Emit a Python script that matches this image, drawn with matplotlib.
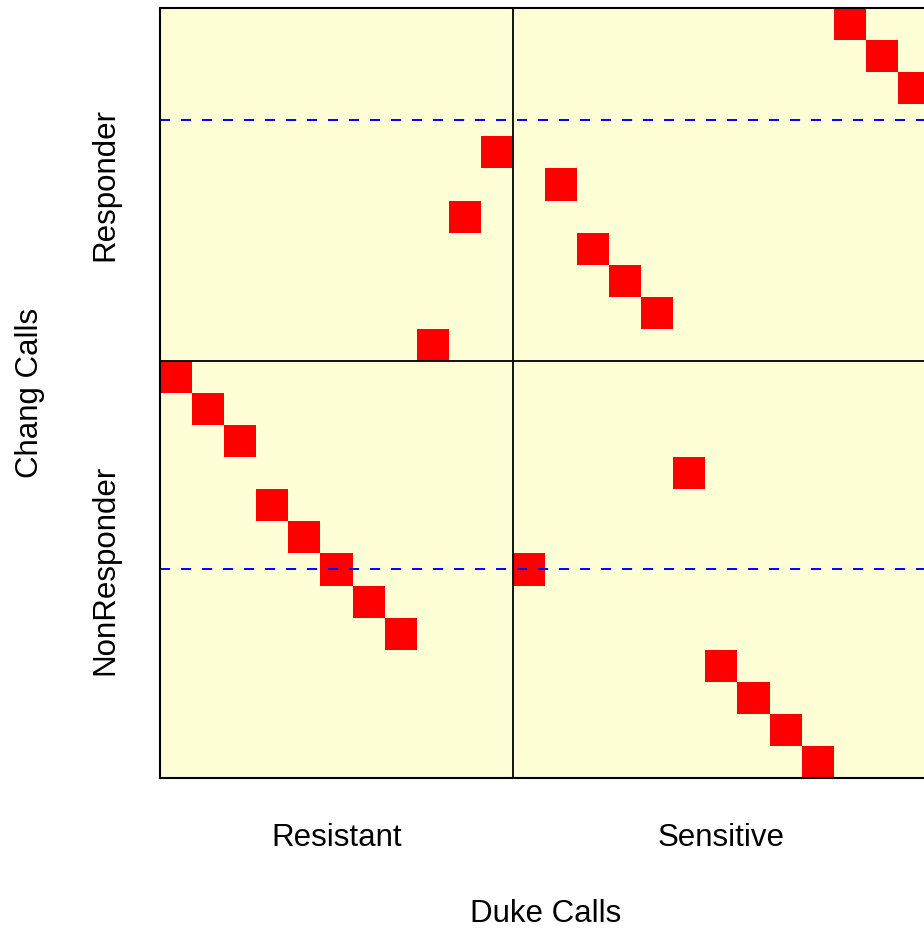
import numpy as np
import matplotlib
matplotlib.use("Agg")
import matplotlib.pyplot as plt
from matplotlib.colors import ListedColormap

plt.rcParams['font.family'] = ['Liberation Sans', 'DejaVu Sans']

# Duke calls (x) and Chang calls (y) categories
duke_labels = ["Resistant", "Sensitive"]
chang_labels = ["NonResponder", "Responder"]
n_resistant = 11          # samples called Resistant by Duke (columns)
n_nonresponder = 13       # rows called NonResponder by Chang
# row (counted from the top) of the red cell for each sample column
row_from_top = [11, 12, 13, 15, 16, 17, 18, 19, 10, 6, 4,
                17, 5, 7, 8, 9, 14, 20, 21, 22, 23, 0, 1, 2]
# dashed reference rows (counted from the top, cell centres)
dashed_rows_from_top = [3.5, 17.5]

n = len(row_from_top)
Z = np.zeros((n, n))
for c, r in enumerate(row_from_top):
    Z[n - 1 - r, c] = 1

fig = plt.figure(figsize=(9.24, 9.31), dpi=100)
ax = fig.add_axes([160/924, (931-778)/931, 770/924, 770/931])
ax.pcolormesh(np.arange(n + 1), np.arange(n + 1), Z,
              cmap=ListedColormap(['#FEFED6', '#FF0000']), vmin=0, vmax=1)
ax.set_xlim(0, n)
ax.set_ylim(0, n)

ax.axvline(n_resistant, color='black', lw=1.3)
ax.axhline(n_nonresponder, color='black', lw=1.3)
for dr in dashed_rows_from_top:
    ln, = ax.plot([0, n], [n - dr, n - dr], color='#0000FF', lw=1.4)
    ln.set_dashes((5.2, 5.6))

for s in ax.spines.values():
    s.set_linewidth(1.5)
    s.set_color('black')

ax.set_xticks([n_resistant / 2, (n_resistant + n) / 2])
ax.set_xticklabels(duke_labels)
ax.set_yticks([n_nonresponder / 2, (n_nonresponder + n) / 2])
ax.set_yticklabels(chang_labels, rotation=90, va='center')
ax.tick_params(length=0, labelsize=22.5, pad=0)
for t in ax.get_xticklabels():
    t.set_y(-0.059)
for t in ax.get_yticklabels():
    t.set_x(-0.052)

fig.text(546/924, 1 - 914/931, "Duke Calls", ha='center', va='center', fontsize=22.5)
fig.text(30/924, 1 - 393/931, "Chang Calls", ha='center', va='center', rotation=90, fontsize=22.5)

fig.savefig("out.png", dpi=100)
